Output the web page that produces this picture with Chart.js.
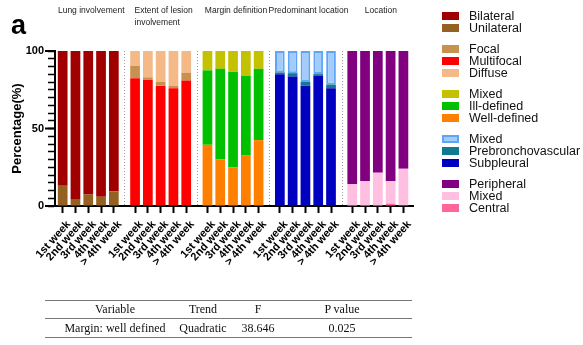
<!DOCTYPE html>
<html>
<head>
<meta charset="utf-8">
<script src="https://cdn.jsdelivr.net/npm/chart.js@4.4.1/dist/chart.umd.min.js"></script>
<style>
  html, body { margin: 0; padding: 0; background: #fff; }
  #wrap { position: relative; width: 583px; height: 345px; overflow: hidden; }
  #chart { position: absolute; left: 0; top: 0; }
  #legend { position: absolute; left: 442px; top: 10px; font-family: Arial, "Liberation Sans", sans-serif; font-size: 12.5px; color: #111; }
  .lg-group { margin-bottom: 9px; }
  .lg-row { height: 12px; line-height: 12px; position: relative; white-space: nowrap; }
  .lg-sw { position: absolute; left: 0; top: 2px; width: 17px; height: 8px; box-sizing: border-box; }
  .lg-tx { position: absolute; left: 27px; top: 0; }
  #table { position: absolute; left: 45px; top: 0; width: 367px; height: 345px; font-family: "Times New Roman", "Liberation Serif", serif; font-size: 12px; color: #111; }
  .rule { position: absolute; left: 0; width: 367px; height: 0; border-top: 1px solid #777; }
  .cell { position: absolute; transform: translate(-50%, -50%); white-space: nowrap; }
</style>
</head>
<body>
<div id="wrap">
  <canvas id="chart" width="583" height="290"></canvas>
  <div id="legend"></div>
  <div id="table"></div>
</div>
<script>
// Time points shown on the x axis of every panel
const weekLabels = ['1st week', '2nd week', '3rd week', '4th week', '> 4th week'];
// Panel headings (multi-line headings split into lines)
const groupTitles = [['Lung involvement'], ['Extent of lesion', 'involvement'], ['Margin definition'], ['Predominant location'], ['Location']];

// Percentages per week
const unilateral = [13, 4, 7.5, 6, 9.5];
const bilateral = [87, 96, 92.5, 94, 90.5];

const multifocal = [82.5, 81.5, 77.5, 76, 81];
const focal = [8, 1.5, 2.5, 1.5, 5];
const diffuse = [9.5, 17, 20, 22.5, 14];

const wellDefined = [39.5, 30, 25, 32.5, 42.5];
const illDefined = [48, 58.5, 61.5, 51.5, 46];
const marginMixed = [12.5, 11.5, 13.5, 16, 11.5];

const subpleural = [85, 83.5, 77.5, 84, 76];
const prebronchovascular = [1.2, 2.2, 2.5, 1.1, 2.3];
const predominantMixed = [13.8, 14.3, 20, 14.9, 21.7];

const central = [0, 0, 0, 1.5, 0.6];
const locationMixed = [14, 16, 21.5, 14.5, 23.4];
const peripheral = [86, 84, 78.5, 84, 76];

// Summary table
const tableHeader = ['Variable', 'Trend', 'F', 'P value'];
const tableRow = ['Margin: well defined', 'Quadratic', '38.646', '0.025'];

// ---- layout constants ----
const GROUP_STEP = 5.66;          // distance between the first bars of neighbouring panels (in bar slots)
const PER_GROUP = weekLabels.length;

const seriesDefs = [
  { id: 'uni',   label: 'Unilateral',         g: 0, values: unilateral,         color: '#956121' },
  { id: 'bi',    label: 'Bilateral',          g: 0, values: bilateral,          color: '#a00000' },
  { id: 'multi', label: 'Multifocal',         g: 1, values: multifocal,         color: '#ff0000' },
  { id: 'focal', label: 'Focal',              g: 1, values: focal,              color: '#c8914f' },
  { id: 'diff',  label: 'Diffuse',            g: 1, values: diffuse,            color: '#f4b986' },
  { id: 'well',  label: 'Well-defined',       g: 2, values: wellDefined,        color: '#ff8000' },
  { id: 'ill',   label: 'Ill-defined',        g: 2, values: illDefined,         color: '#00c000' },
  { id: 'mmix',  label: 'Mixed',              g: 2, values: marginMixed,        color: '#c4c200' },
  { id: 'sub',   label: 'Subpleural',         g: 3, values: subpleural,         color: '#0000c0' },
  { id: 'preb',  label: 'Prebronchovascular', g: 3, values: prebronchovascular, color: '#127a8e' },
  { id: 'pmix',  label: 'Mixed',              g: 3, values: predominantMixed,   color: '#a3ccfb', border: '#5ea5f8' },
  { id: 'cen',   label: 'Central',            g: 4, values: central,            color: '#ff6699' },
  { id: 'lmix',  label: 'Mixed',              g: 4, values: locationMixed,      color: '#ffbfe0' },
  { id: 'peri',  label: 'Peripheral',         g: 4, values: peripheral,         color: '#800080' }
];
const legendOrder = [['bi', 'uni'], ['focal', 'multi', 'diff'], ['mmix', 'ill', 'well'], ['pmix', 'preb', 'sub'], ['peri', 'lmix', 'cen']];

const slotX = (g, i) => g * GROUP_STEP + i;
const tickPositions = [];
for (let g = 0; g < groupTitles.length; g++) for (let i = 0; i < PER_GROUP; i++) tickPositions.push(slotX(g, i));

const datasets = seriesDefs.map(s => ({
  label: s.label,
  data: s.values.map((v, i) => ({ x: slotX(s.g, i), y: v })),
  backgroundColor: s.color,
  borderColor: s.border || s.color,
  borderWidth: s.border ? 2 : 0,
  borderSkipped: false,
  barPercentage: 0.76,
  categoryPercentage: 1
}));

Chart.defaults.font.family = 'Arial, "Liberation Sans", sans-serif';
Chart.defaults.color = '#000';

// Dotted panel separators, headings, long major ticks and panel letter
const decorations = {
  id: 'decorations',
  beforeDatasetsDraw(chart) {
    const { ctx, chartArea, scales } = chart;
    ctx.save();
    ctx.strokeStyle = '#9a9a9a';
    ctx.lineWidth = 1;
    ctx.setLineDash([1, 2]);
    for (let g = 0; g < groupTitles.length - 1; g++) {
      const x = Math.round(scales.x.getPixelForValue(slotX(g, PER_GROUP - 1) + (GROUP_STEP - PER_GROUP + 1) / 2)) + 0.5;
      ctx.beginPath();
      ctx.moveTo(x, chartArea.top);
      ctx.lineTo(x, chartArea.bottom);
      ctx.stroke();
    }
    ctx.restore();
  },
  afterDraw(chart) {
    const { ctx, chartArea, scales } = chart;
    ctx.save();
    // longer major ticks on the value axis
    ctx.strokeStyle = '#000';
    ctx.lineWidth = 2;
    [0, 50, 100].forEach(v => {
      const y = scales.y.getPixelForValue(v);
      ctx.beginPath();
      ctx.moveTo(chartArea.left - 10, y);
      ctx.lineTo(chartArea.left, y);
      ctx.stroke();
    });
    // panel headings
    ctx.fillStyle = '#222';
    ctx.font = '8.5px Arial, "Liberation Sans", sans-serif';
    ctx.textBaseline = 'middle';
    ctx.textAlign = 'left';
    groupTitles.forEach((lines, g) => {
      const cx = scales.x.getPixelForValue(slotX(g, (PER_GROUP - 1) / 2)) + 3;
      const w = Math.max(...lines.map(l => ctx.measureText(l).width));
      lines.forEach((l, k) => ctx.fillText(l, cx - w / 2, 11 + k * 12));
    });
    // panel letter
    ctx.fillStyle = '#000';
    ctx.font = 'bold 27px Arial, "Liberation Sans", sans-serif';
    ctx.textBaseline = 'alphabetic';
    ctx.fillText('a', 11, 34);
    ctx.restore();
  }
};

new Chart(document.getElementById('chart'), {
  type: 'bar',
  data: { datasets },
  options: {
    responsive: false,
    animation: false,
    devicePixelRatio: 1,
    layout: { padding: { top: 51, left: 8, right: 170, bottom: 14 } },
    plugins: { legend: { display: false }, tooltip: { enabled: false } },
    scales: {
      x: {
        type: 'linear',
        stacked: true,
        offset: false,
        min: -0.6,
        max: slotX(groupTitles.length - 1, PER_GROUP - 1) + 0.75,
        afterBuildTicks: scale => { scale.ticks = tickPositions.map(v => ({ value: v })); },
        afterFit: scale => { scale.height = 70; },
        border: { display: true, color: '#000', width: 2 },
        grid: { display: true, drawOnChartArea: false, drawTicks: true, tickLength: 7, tickWidth: 2, tickColor: '#000', offset: false },
        ticks: {
          autoSkip: false,
          minRotation: 48,
          maxRotation: 48,
          labelOffset: 6,
          padding: 5,
          font: { size: 11, weight: 'bold' },
          color: '#000',
          callback: (v, i) => weekLabels[i % PER_GROUP]
        }
      },
      y: {
        stacked: true,
        min: 0,
        max: 100,
        afterFit: scale => { scale.width = 47; },
        border: { display: true, color: '#000', width: 2 },
        grid: { display: true, drawOnChartArea: false, drawTicks: true, tickLength: 7, tickWidth: 1.5, tickColor: '#000' },
        ticks: {
          stepSize: 5,
          autoSkip: false,
          padding: 4,
          font: { size: 11, weight: 'bold' },
          color: '#000',
          callback: v => (v % 50 === 0 ? v : '')
        },
        title: { display: true, text: 'Percentage(%)', font: { size: 13, weight: 'bold' }, color: '#000', padding: { top: 2, bottom: 0 } }
      }
    }
  },
  plugins: [decorations]
});

// Legend grouped by panel
const legendEl = document.getElementById('legend');
legendOrder.forEach(group => {
  const gEl = document.createElement('div');
  gEl.className = 'lg-group';
  group.forEach(id => {
    const s = seriesDefs.find(d => d.id === id);
    const row = document.createElement('div');
    row.className = 'lg-row';
    const sw = document.createElement('span');
    sw.className = 'lg-sw';
    sw.style.background = s.color;
    if (s.border) sw.style.border = '2px solid ' + s.border;
    const tx = document.createElement('span');
    tx.className = 'lg-tx';
    tx.textContent = s.label;
    row.appendChild(sw);
    row.appendChild(tx);
    gEl.appendChild(row);
  });
  legendEl.appendChild(gEl);
});

// Summary table
const tableEl = document.getElementById('table');
const colCenters = [70, 158, 213, 297];
[300, 318, 337].forEach(y => {
  const r = document.createElement('div');
  r.className = 'rule';
  r.style.top = y + 'px';
  tableEl.appendChild(r);
});
[[tableHeader, 309], [tableRow, 328]].forEach(([cells, y]) => {
  cells.forEach((t, k) => {
    const c = document.createElement('div');
    c.className = 'cell';
    c.style.left = colCenters[k] + 'px';
    c.style.top = y + 'px';
    c.textContent = t;
    tableEl.appendChild(c);
  });
});
</script>
</body>
</html>
